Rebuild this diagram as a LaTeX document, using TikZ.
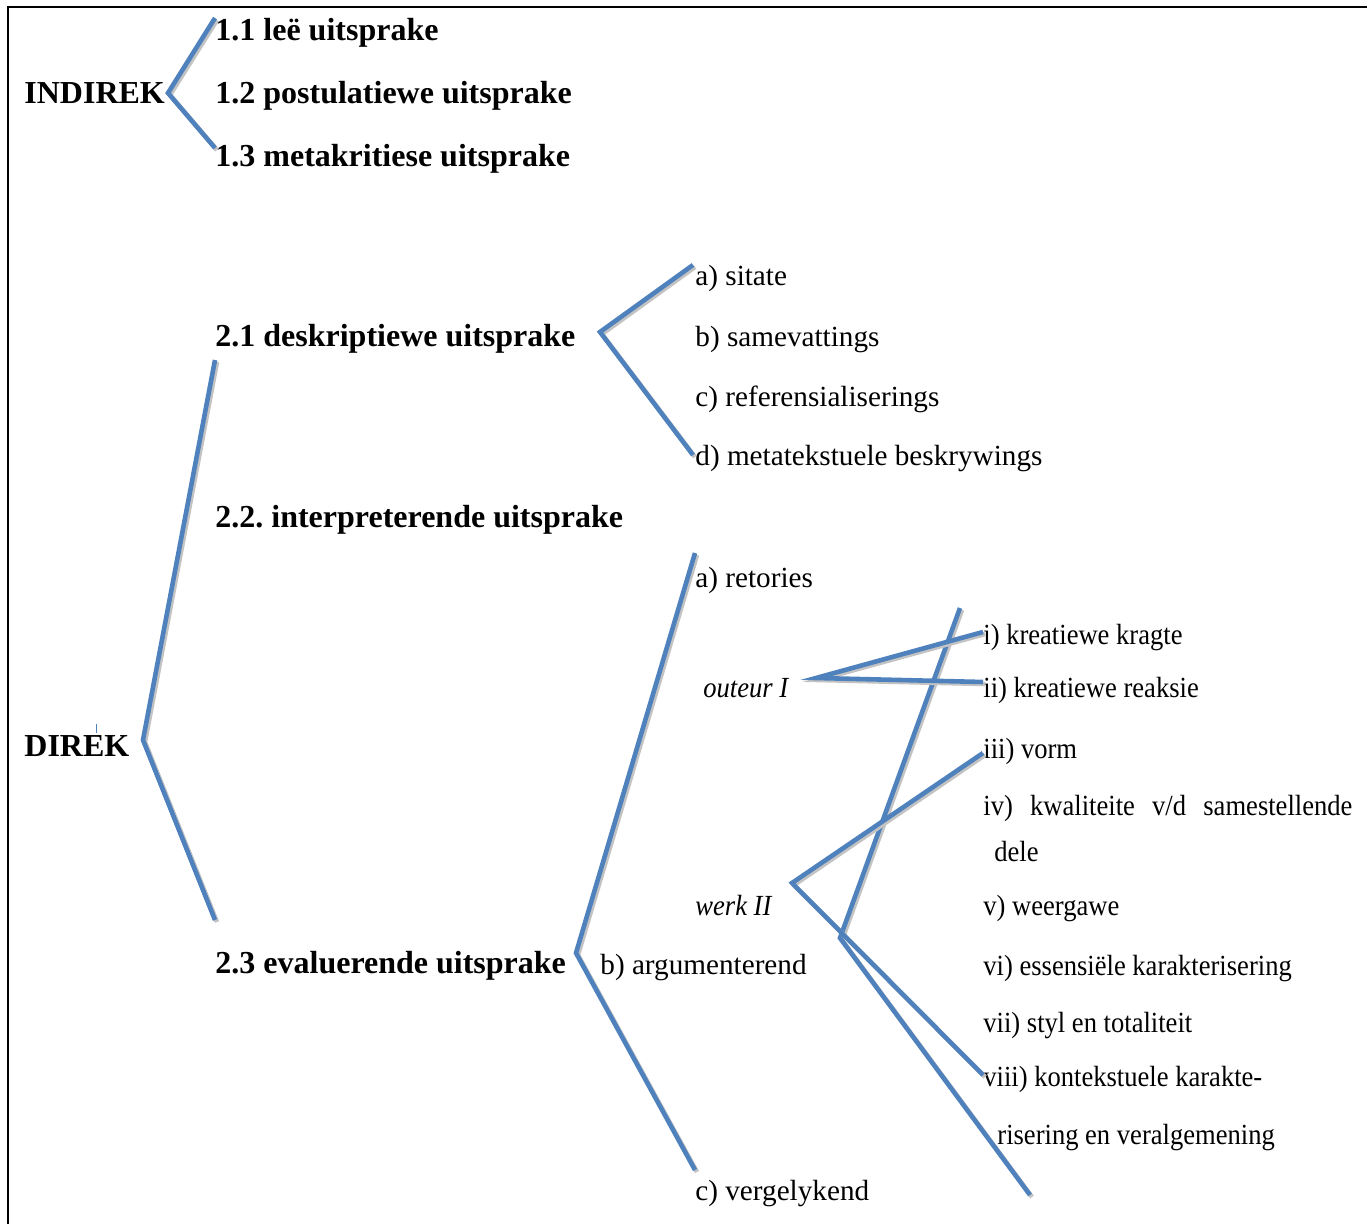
\documentclass[tikz,border=0pt]{standalone}
\usepackage{fontspec}
\setmainfont{Liberation Serif}
\newfontfamily\narrowfont[FakeStretch=0.91]{Liberation Serif}
\definecolor{lblue}{RGB}{79,129,189}
\definecolor{shad}{RGB}{195,195,195}
\frenchspacing
\begin{document}
\begin{tikzpicture}[x=0.5pt,y=-0.5pt,
  br/.style={draw=lblue, line width=2.3pt, preaction={draw=shad, line width=2.3pt, transform canvas={xshift=1pt,yshift=-1pt}}},
  bt/.style={anchor=base west, inner sep=0pt, font=\fontsize{16}{19}\selectfont\bfseries},
  rt/.style={anchor=base west, inner sep=0pt, font=\fontsize{14.6}{17}\selectfont},
  nt/.style={anchor=base west, inner sep=0pt, font=\fontsize{14.6}{17}\selectfont\narrowfont},
  it/.style={anchor=base west, inner sep=0pt, font=\fontsize{14.6}{17}\selectfont\narrowfont\itshape}]
\useasboundingbox (0,0) rectangle (1367,1224);
% frame
\draw[line width=1pt] (8,1224) -- (8,7) -- (1367,7);

% level 0
\node[bt] (indirek) at (24,104) {INDIREK};
\node[bt] (direk) at (24,757) {DIREK};
\draw[lblue, line width=0.4pt] (96,724) -- (96,733);

% INDIREK children
\node[bt] (n11) at (215,41) {1.1 leë uitsprake};
\node[bt] (n12) at (215,104) {1.2 postulatiewe uitsprake};
\node[bt] (n13) at (215,167) {1.3 metakritiese uitsprake};

% DIREK children
\node[bt] (n21) at (215,347) {2.1 deskriptiewe uitsprake};
\node[bt] (n22) at (215,528) {2.2. interpreterende uitsprake};
\node[bt] (n23) at (215,974) {2.3 evaluerende uitsprake};

% 2.1 children
\node[rt] (a1) at (695,286) {a) sitate};
\node[rt] (b1) at (695,347) {b) samevattings};
\node[rt] (c1) at (695,407) {c) referensialiserings};
\node[rt] (d1) at (695,466) {d) metatekstuele beskrywings};

% 2.3 children
\node[rt] (a3) at (695,588) {a) retories};
\node[rt] (b3) at (600,975) {b) argumenterend};
\node[rt] (c3) at (695,1200) {c) vergelykend};

% outeur / werk
\node[it] (outeur) at (703,698) {outeur I};
\node[it] (werk) at (695,916) {werk II};

\node[nt] (r1) at (983,645) {i) kreatiewe kragte};
\node[nt] (r2) at (983,698) {ii) kreatiewe reaksie};
\node[nt] (r3) at (983,759) {iii) vorm};
\node[nt] (r4) at (983,816) {\makebox[184.5pt][s]{iv)\hfill kwaliteite\hfill v/d\hfill samestellende}};
\node[nt] (r4b) at (994,862) {dele};
\node[nt] (r5) at (983,916) {v) weergawe};
\node[nt] (r6) at (983,976) {vi) essensiële karakterisering};
\node[nt] (r7) at (983,1033) {vii) styl en totaliteit};
\node[nt] (r8) at (983,1087) {viii) kontekstuele karakte-};
\node[nt] (r8b) at (997,1144) {risering en veralgemening};

% connector coordinates
\coordinate (vind) at (168,93);
\coordinate (e11) at (215,18);
\coordinate (e13) at (215,148);
\coordinate (vdir) at (143,740);
\coordinate (e21) at (215,360);
\coordinate (e23) at (215,920);
\coordinate (v21) at (600,332);
\coordinate (ea1) at (693,265);
\coordinate (ed1) at (693,455);
\coordinate (v23) at (576,953);
\coordinate (ea3) at (695,553);
\coordinate (ec3) at (695,1170);
\coordinate (vout) at (816,678);
\coordinate (er1) at (983,632);
\coordinate (er2) at (983,682);
\coordinate (vwerk) at (792,883);
\coordinate (er3) at (983,753);
\coordinate (er8) at (983,1075);
\coordinate (ltop) at (960,608);
\coordinate (lv) at (840,938);
\coordinate (lbot) at (1030,1195);

% connectors
\draw[br] (e11) -- (vind) -- (e13);
\draw[br] (e21) -- (vdir) -- (e23);
\draw[br] (ea1) -- (v21) -- (ed1);
\draw[br] (ea3) -- (v23) -- (ec3);
\draw[br] (ltop) -- (lv) -- (lbot);
\draw[br] (er1) -- (vout) -- (er2);
\draw[br] (er3) -- (vwerk) -- (er8);
\end{tikzpicture}
\end{document}
